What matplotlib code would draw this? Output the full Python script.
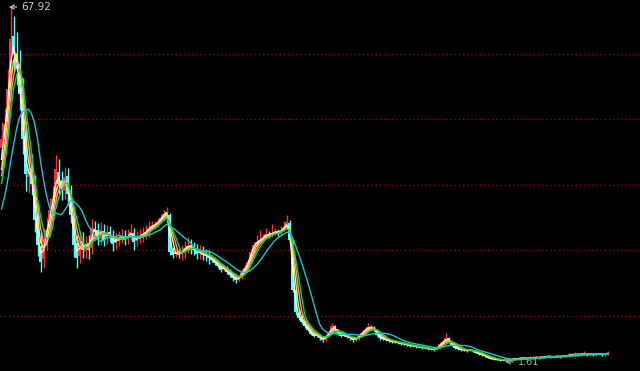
import numpy as np
import pandas as pd
import matplotlib
matplotlib.use('Agg')
import matplotlib.pyplot as plt

# 可见区间之前的收盘价（只用于计算均线）
pre_closes = [23.53, 24.47, 25.40, 26.34, 27.28, 29.15, 32.90, 33.83, 35.71]

opens = [
    41.5, 43.0, 46.5, 53.0, 62.5, 58.6, 56.0, 51.0, 43.9, 36.2,
    37.9, 34.3, 28.6, 23.2, 20.8, 24.1, 26.6, 29.7, 32.3, 37.1,
    35.2, 33.5, 36.4, 33.2, 28.8, 23.9, 21.4, 24.2, 22.3, 23.8,
    22.9, 26.5, 26.2, 24.6, 26.1, 24.7, 25.8, 25.0, 23.9, 24.3,
    24.9, 25.1, 24.6, 25.3, 25.7, 24.2, 24.9, 25.1, 25.5, 25.9,
    26.8, 27.0, 27.2, 27.9, 28.5, 29.2, 29.0, 22.4, 21.8, 22.3,
    21.7, 22.1, 23.0, 23.4, 23.0, 22.6, 21.9, 22.2, 21.7, 21.5,
    21.1, 20.8, 20.2, 19.6, 18.9, 19.1, 18.5, 17.9, 17.4, 17.0,
    17.4, 18.5, 19.3, 20.4, 22.3, 23.6, 24.1, 24.4, 24.9, 25.6,
    25.2, 25.8, 26.0, 25.6, 26.3, 26.8, 27.6, 24.2, 15.0, 10.8,
    9.9, 9.1, 8.4, 7.6, 6.9, 6.5, 6.7, 6.1, 5.8, 6.5,
    7.1, 8.3, 7.6, 6.9, 6.5, 6.7, 6.3, 6.1, 5.7, 5.9,
    6.5, 7.0, 7.6, 8.2, 8.0, 7.6, 6.7, 6.1, 5.9, 5.7,
    5.6, 5.4, 5.4, 5.2, 5.0, 5.0, 4.8, 4.6, 4.6, 4.4,
    4.4, 4.2, 4.2, 4.0, 4.0, 3.9, 4.2, 5.0, 5.3, 6.0,
    5.4, 4.8, 4.3, 4.0, 3.9, 3.9, 3.7, 3.8, 3.7, 3.3,
    3.1, 2.9, 2.7, 2.4, 2.2, 2.2, 2.0, 1.9, 2.0, 1.8,
    2.0, 2.2, 2.1, 2.2, 2.4, 2.3, 2.2, 2.4, 2.4, 2.5,
    2.4, 2.5, 2.6, 2.7, 2.5, 2.6, 2.7, 2.6, 2.7, 2.7,
    2.9, 2.9, 3.1, 2.9, 3.1, 3.1, 2.9, 3.1, 2.9, 3.1,
    3.1, 2.9, 3.1,
]

highs = [
    46.5, 49.0, 56.3, 67.92, 66.3, 63.3, 59.9, 54.6, 46.7, 41.8,
    40.4, 36.5, 31.1, 25.8, 26.6, 28.5, 32.2, 34.4, 40.2, 39.6,
    37.2, 38.1, 37.8, 34.7, 30.4, 25.4, 26.1, 25.9, 25.2, 25.4,
    28.3, 27.9, 27.5, 27.8, 27.4, 27.2, 27.0, 26.2, 25.7, 26.1,
    26.5, 26.3, 26.4, 27.3, 26.7, 26.0, 26.4, 26.8, 27.2, 28.0,
    27.9, 28.0, 28.5, 29.2, 30.0, 30.6, 29.4, 23.1, 22.9, 22.8,
    23.4, 24.2, 24.9, 24.5, 24.1, 23.7, 23.5, 23.3, 22.8, 22.6,
    21.5, 21.2, 20.6, 19.9, 19.8, 19.5, 18.9, 18.3, 17.9, 17.9,
    18.9, 19.7, 20.9, 22.8, 24.0, 25.4, 26.2, 25.6, 26.6, 26.1,
    27.3, 26.6, 26.4, 27.0, 27.9, 29.1, 28.2, 24.6, 15.5, 11.4,
    10.3, 9.5, 8.7, 7.9, 7.2, 7.0, 6.9, 6.4, 6.8, 7.4,
    8.9, 8.6, 7.8, 7.1, 6.9, 6.8, 6.5, 6.3, 6.2, 6.7,
    7.3, 7.9, 8.8, 8.6, 8.4, 7.8, 6.9, 6.3, 6.1, 5.9,
    5.8, 5.6, 5.5, 5.3, 5.2, 5.1, 4.9, 4.8, 4.7, 4.6,
    4.5, 4.4, 4.3, 4.2, 4.1, 4.6, 5.3, 5.8, 7.0, 6.3,
    5.6, 5.0, 4.4, 4.2, 4.1, 4.0, 4.0, 3.9, 3.8, 3.4,
    3.2, 3.0, 2.8, 2.5, 2.3, 2.3, 2.1, 2.1, 2.1, 2.1,
    2.3, 2.3, 2.3, 2.5, 2.5, 2.4, 2.7, 2.8, 2.7, 2.6,
    2.7, 2.7, 2.9, 2.8, 2.7, 2.9, 2.8, 2.9, 2.9, 3.2,
    3.2, 3.4, 3.3, 3.3, 3.6, 3.2, 3.3, 3.2, 3.3, 3.3,
    3.2, 3.3, 3.7,
]

lows = [
    39.3, 40.8, 44.4, 50.5, 55.9, 53.4, 48.7, 40.5, 33.6, 33.1,
    32.8, 25.9, 21.4, 18.5, 19.1, 22.6, 24.9, 28.0, 30.5, 32.9,
    31.8, 32.1, 31.0, 27.5, 21.3, 19.1, 20.1, 21.1, 21.0, 20.8,
    21.7, 24.4, 23.4, 23.5, 23.2, 23.6, 24.1, 22.4, 22.7, 23.3,
    23.8, 23.4, 23.6, 24.3, 22.6, 23.2, 23.8, 24.1, 24.5, 24.9,
    26.4, 26.5, 26.9, 27.5, 28.1, 28.8, 21.5, 21.0, 21.3, 21.1,
    20.6, 21.1, 21.9, 21.8, 21.5, 20.8, 20.9, 20.6, 20.4, 20.0,
    20.3, 19.8, 19.2, 18.4, 18.6, 18.0, 17.4, 16.8, 16.4, 16.7,
    17.1, 18.2, 19.0, 20.1, 21.9, 23.2, 23.7, 24.0, 24.6, 24.7,
    24.9, 25.4, 25.1, 25.3, 26.0, 26.5, 23.8, 14.6, 10.4, 9.4,
    8.7, 8.0, 7.3, 6.6, 6.2, 6.3, 5.8, 5.4, 5.6, 6.3,
    6.9, 7.3, 6.6, 6.2, 6.3, 6.0, 5.8, 5.3, 5.5, 5.8,
    6.3, 6.8, 7.4, 7.7, 7.3, 6.4, 5.8, 5.7, 5.5, 5.3,
    5.2, 5.1, 5.0, 4.8, 4.8, 4.6, 4.4, 4.4, 4.3, 4.2,
    4.1, 4.1, 3.9, 3.9, 3.7, 3.8, 4.1, 4.8, 5.2, 5.1,
    4.6, 4.0, 3.9, 3.7, 3.7, 3.5, 3.6, 3.5, 3.2, 3.0,
    2.8, 2.6, 2.3, 2.1, 2.0, 1.9, 1.8, 1.8, 1.61, 1.7,
    1.9, 2.0, 2.0, 2.1, 2.2, 2.1, 2.1, 2.2, 2.3, 2.2,
    2.3, 2.4, 2.5, 2.4, 2.4, 2.5, 2.4, 2.5, 2.6, 2.6,
    2.8, 2.8, 2.8, 2.8, 3.0, 2.8, 2.8, 2.8, 2.8, 3.0,
    2.8, 2.8, 3.0,
]

closes = [
    43.20, 46.01, 52.56, 61.93, 59.12, 56.31, 51.63, 43.20, 36.64, 37.58,
    34.77, 28.21, 23.53, 20.35, 24.47, 26.34, 30.09, 31.96, 37.58, 34.77,
    33.83, 36.08, 32.90, 29.15, 23.53, 21.10, 24.47, 22.60, 23.53, 22.60,
    26.71, 25.97, 24.84, 26.34, 24.47, 25.97, 25.22, 23.72, 24.47, 24.84,
    25.22, 24.47, 25.22, 25.97, 24.09, 24.84, 25.22, 25.59, 25.97, 26.71,
    27.09, 27.28, 27.84, 28.59, 29.34, 29.71, 22.22, 21.66, 22.22, 21.66,
    22.22, 22.97, 23.35, 22.97, 22.60, 21.85, 22.22, 21.66, 21.47, 21.10,
    20.72, 20.16, 19.60, 18.85, 19.22, 18.47, 17.91, 17.35, 16.98, 17.35,
    18.47, 19.22, 20.35, 22.22, 23.53, 24.09, 24.47, 24.84, 25.59, 25.22,
    25.78, 25.97, 25.59, 26.34, 26.71, 27.84, 24.47, 15.10, 10.98, 9.86,
    9.11, 8.36, 7.61, 6.86, 6.49, 6.68, 6.11, 5.74, 6.49, 7.05,
    8.36, 7.61, 6.86, 6.49, 6.68, 6.30, 6.11, 5.74, 5.93, 6.49,
    7.05, 7.61, 8.17, 7.99, 7.61, 6.68, 6.11, 5.93, 5.74, 5.55,
    5.36, 5.36, 5.18, 4.99, 4.99, 4.80, 4.61, 4.61, 4.43, 4.43,
    4.24, 4.24, 4.05, 4.05, 3.86, 4.24, 4.99, 5.36, 6.11, 5.36,
    4.80, 4.24, 4.05, 3.86, 3.86, 3.68, 3.86, 3.68, 3.30, 3.11,
    2.93, 2.74, 2.36, 2.18, 2.18, 1.99, 1.99, 1.99, 1.80, 1.99,
    2.18, 2.18, 2.18, 2.36, 2.36, 2.18, 2.36, 2.36, 2.55, 2.36,
    2.55, 2.55, 2.74, 2.55, 2.55, 2.74, 2.55, 2.74, 2.74, 2.93,
    2.93, 3.11, 2.93, 3.11, 3.11, 2.93, 3.11, 2.93, 3.11, 3.11,
    2.93, 3.11, 3.30,
]

# 均线周期和颜色
ma_periods = [2, 3, 4, 5, 10]
ma_colors = ['#FFFFFF', '#FFFF00', '#FF80FF', '#00E600', '#1EC3CF']

# 红色虚线网格的价位
grid_levels = [59.1, 47.0, 34.7, 22.5, 10.2]

o = np.array(opens)
h = np.array(highs)
l = np.array(lows)
c = np.array(closes)
x = np.arange(len(c))

fig = plt.figure(figsize=(6.4, 3.71), dpi=100, facecolor='black')
ax = fig.add_axes([0, 0, 1, 1])
ax.set_facecolor('black')

# 网格线
for lv in grid_levels:
    ax.axhline(lv, color='#A00000', linewidth=1.0, linestyle=(0, (1, 2)), zorder=1)

# K线：涨红跌青
up = c >= o
cols = np.where(up, '#FF3030', '#54FCFC')
ax.vlines(x, l, h, colors=cols, linewidth=1.0, zorder=2)
ax.bar(x, np.abs(c - o), bottom=np.minimum(o, c), width=0.7, color=cols,
       linewidth=0, zorder=2)

# 均线
s = pd.Series(pre_closes + closes)
n_pre = len(pre_closes)
for n, col in zip(ma_periods, ma_colors):
    ma = s.rolling(n).mean().iloc[n_pre:].values
    ax.plot(x, ma, color=col, linewidth=1.0, zorder=3)

# 最高价 / 最低价标注
i_hi = int(np.argmax(h))
i_lo = int(np.argmin(l))
ax.annotate(f'{h[i_hi]:.2f}', xy=(i_hi - 0.5, h[i_hi]), xytext=(12, 0),
            textcoords='offset pixels', ha='left', va='center',
            color='#CCCCCC', fontsize=7.5,
            arrowprops=dict(arrowstyle='->', color='#CCCCCC', lw=0.8,
                            shrinkA=1, shrinkB=0))
ax.annotate(f'{l[i_lo]:.2f}', xy=(i_lo, l[i_lo]), xytext=(12, 0),
            textcoords='offset pixels', ha='left', va='center',
            color='#A8A8A8', fontsize=7,
            arrowprops=dict(arrowstyle='->', color='#A8A8A8', lw=0.8,
                            shrinkA=1, shrinkB=0))

ax.set_xlim(-0.5, 640 / 3 - 0.5)
ax.set_ylim(-0.08, 69.23)
ax.axis('off')

fig.savefig('out.png', dpi=100, facecolor='black')
